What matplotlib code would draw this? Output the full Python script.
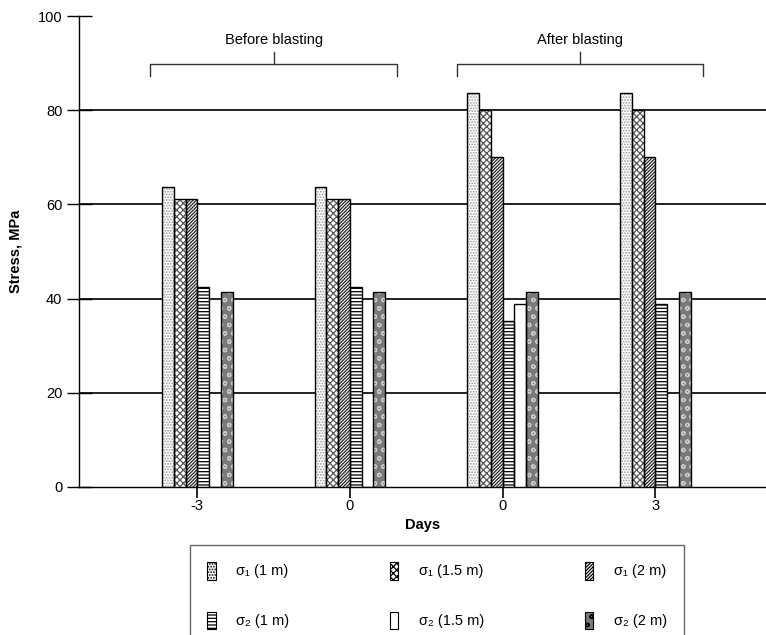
import matplotlib

matplotlib.use("Agg")
import matplotlib.pyplot as plt
import numpy as np

plt.rcParams["font.family"] = ["Liberation Sans", "DejaVu Sans"]
plt.rcParams["hatch.linewidth"] = 0.9

dias = ["-3", "0", "0", "3"]
series = ["σ₁ (1 m)", "σ₁ (1.5 m)", "σ₁ (2 m)", "σ₂ (1 m)", "σ₂ (1.5 m)", "σ₂ (2 m)"]
valores = [
    [63.7, 63.7, 83.7, 83.7],  # sigma1 1 m
    [61.2, 61.2, 80.0, 80.0],  # sigma1 1.5 m
    [61.2, 61.2, 70.0, 70.0],  # sigma1 2 m
    [42.5, 42.5, 35.2, 38.9],  # sigma2 1 m
    [0.0, 0.0, 38.9, 0.0],  # sigma2 1.5 m
    [41.3, 41.3, 41.3, 41.3],  # sigma2 2 m
]
grupos = ["Before blasting", "After blasting"]

# (face, hatch, cor do hatch)
estilos = [
    ("white", "......", "#9a9a9a"),
    ("white", "xxxxx", "#555555"),
    ("white", "/" * 10, "#222222"),
    ("white", "-----", "black"),
    ("white", "", "black"),
    ("#7a7a7a", "oo", "#c8c8c8"),
]

fig = plt.figure(figsize=(7.66, 6.35), dpi=100)
ax = fig.add_axes([79 / 766, 1 - 487 / 635, 1 - 79 / 766, 471 / 635])

x = np.arange(len(dias))
larg = 0.077
barras = []
for i, (vals, (face, hatch, hc)) in enumerate(zip(valores, estilos)):
    pos = x + (i - 2.5) * larg
    ax.bar(pos, vals, larg, color=face, hatch=hatch, edgecolor=hc, linewidth=0, zorder=3)
    ax.bar(pos, vals, larg, facecolor="none", edgecolor="black", linewidth=1.0, zorder=4)
    # proxy para a legenda
    barras.append(plt.Rectangle((0, 0), 1, 1, facecolor=face, hatch=hatch,
                                edgecolor="black", linewidth=0.8))

ax.set_ylim(0, 100)
ax.set_xlim(-0.775, 3.725)
ax.set_yticks([0, 20, 40, 60, 80, 100])
ax.set_xticks(x)
ax.set_xticklabels(dias)
for y in [20, 40, 60, 80]:
    ax.axhline(y, color="#222222", lw=1.4, zorder=1)

for s in ["top", "right"]:
    ax.spines[s].set_visible(False)
ax.spines["left"].set_linewidth(1.0)
ax.spines["bottom"].set_linewidth(1.0)
ax.tick_params(axis="y", direction="inout", length=18, width=1.0, labelsize=10.5, pad=3)
ax.tick_params(axis="x", direction="out", length=8, width=1.2, labelsize=10.5, pad=1)
ax.set_xlabel("Days", fontsize=10.5, fontweight="bold", labelpad=3)
ax.set_ylabel("Stress, MPa", fontsize=10.5, fontweight="bold", labelpad=11)

# chaves Before/After
for (x0, x1), nome in zip([(-0.31, 1.31), (1.7, 3.31)], grupos):
    ym, yb, yt = 89.8, 87.3, 92.4
    ax.plot([x0, x0, x1, x1], [yb, ym, ym, yb], color="#333333", lw=1.0, clip_on=False)
    xc = (x0 + x1) / 2
    ax.plot([xc, xc], [ym, yt], color="#333333", lw=1.0)
    ax.text(xc, 94.9, nome, ha="center", va="center", fontsize=10.5)

# legenda em linhas: sigma1 em cima, sigma2 embaixo
ordem = [0, 3, 1, 4, 2, 5]
leg = fig.legend([barras[k] for k in ordem], [series[k] for k in ordem],
                 loc="upper left", bbox_to_anchor=(190 / 766, 1 - 545 / 635), ncol=3,
                 fontsize=10.5, frameon=True, fancybox=False, edgecolor="#444444",
                 handlelength=0.6, handleheight=1.5, columnspacing=6.9, labelspacing=2.2,
                 borderpad=1.15, handletextpad=1.4, borderaxespad=0)
leg.get_frame().set_linewidth(1.0)

fig.savefig("out.png", dpi=100)
